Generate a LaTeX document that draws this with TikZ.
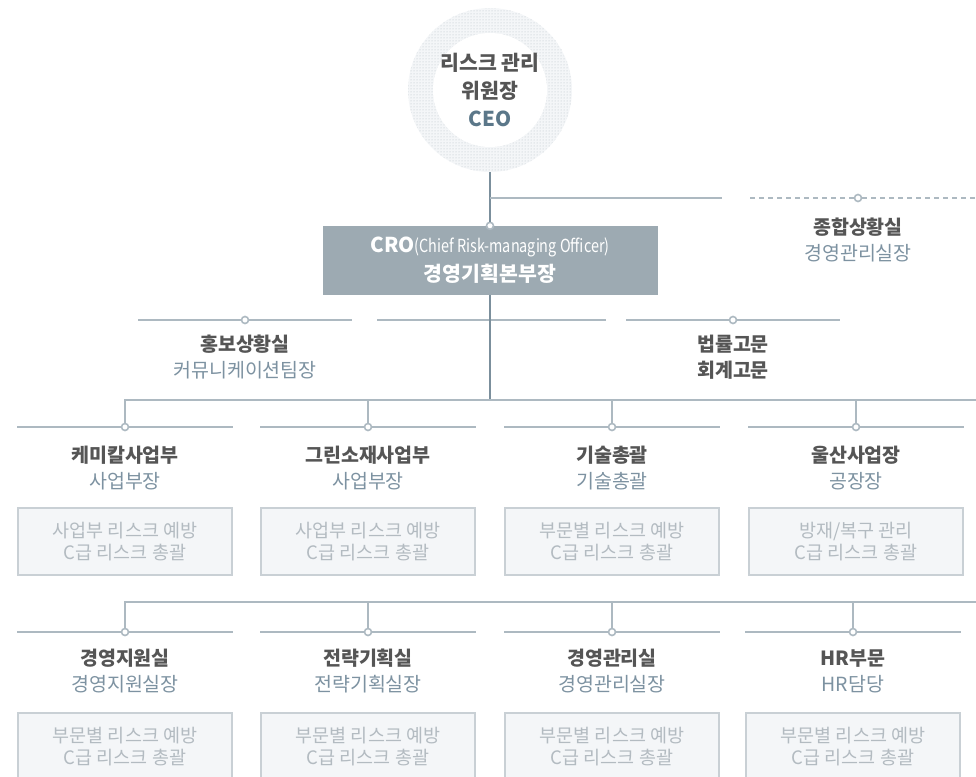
\documentclass[tikz,border=0pt]{standalone}
\usepackage{fontspec}
\setmainfont{Noto Sans CJK KR}
\newfontfamily\narrowfont{Noto Sans CJK KR}[FakeStretch=0.8]
\usetikzlibrary{positioning,patterns}

\definecolor{titlegray}{HTML}{555555}
\definecolor{slate}{HTML}{7D92A1}
\definecolor{ceoblue}{HTML}{5B7789}
\definecolor{linegray}{HTML}{ADB9C1}
\definecolor{maingray}{HTML}{7B8F9C}
\definecolor{boxline}{HTML}{C9D0D5}
\definecolor{boxfill}{HTML}{F4F6F8}
\definecolor{boxtext}{HTML}{B3BBC1}
\definecolor{crofill}{HTML}{9DAAB2}
\definecolor{ringdot}{HTML}{B7BFC6}

\begin{document}
\begin{tikzpicture}[x=1pt, y=-1pt,
    line/.style={draw=linegray, line width=1.3pt},
    mainline/.style={draw=maingray, line width=1.1pt},
    dot/.style={draw=linegray, line width=1.6pt, fill=white, circle, inner sep=0pt, minimum size=7pt},
    unit/.style={align=center, text=slate, font=\fontsize{19.5}{26}\selectfont},
    duty/.style={draw=boxline, line width=1.3pt, fill=boxfill, minimum width=214pt, minimum height=67pt,
        align=center, text=boxtext, font=\fontsize{18.5}{22}\selectfont},
    ceo/.style={circle, minimum size=164pt, preaction={fill=boxfill}, pattern=dots, pattern color=ringdot,
        path picture={\fill[white] (path picture bounding box.center) circle (57pt);},
        align=center, font=\fontsize{20.5}{28}\selectfont\bfseries, text=titlegray},
    cro/.style={fill=crofill, minimum width=335pt, minimum height=69pt, align=center, text=white,
        font=\fontsize{20.5}{29}\selectfont}]
    \useasboundingbox (0,0) rectangle (976,776);
    \clip (0,0) rectangle (976,776);

    % top
    \node[ceo] (ceo) at (490,90) {리스크 관리\\위원장\\{\color{ceoblue}CEO}};
    \node[cro] (cro) at (490,260.5) {\textbf{CRO}{\narrowfont\fontsize{18}{29}\selectfont(Chief Risk-managing Officer)}\\\textbf{경영기획본부장}};
    \node[dot] (crodot) at (cro.north) {};

    \coordinate (cb) at (490,198);
    \coordinate (cbend) at (722,198);
    \coordinate (jl) at (750,198);
    \coordinate (jr) at (976,198);
    \node[dot] (jdot) at (858,198) {};
    \node[unit] (jong) at (858,240) {{\bfseries\color{titlegray}종합상황실}\\경영관리실장};

    % staff row
    \node[dot] (hdot) at (245,320) {};
    \coordinate (hl) at (138,320);
    \coordinate (hr) at (352,320);
    \node[unit] (hong) at (245,357) {{\bfseries\color{titlegray}홍보상황실}\\커뮤니케이션팀장};
    \coordinate (ml) at (377,320);
    \coordinate (mr) at (606,320);
    \node[dot] (bdot) at (733,320) {};
    \coordinate (bl) at (626,320);
    \coordinate (br) at (840,320);
    \node[unit] (law) at (733,357) {{\bfseries\color{titlegray}법률고문}\\{\bfseries\color{titlegray}회계고문}};

    % first row
    \coordinate (bus1) at (976,400);
    \node[dot] (d1) at (125,427) {};
    \node[dot] (d2) at (368,427) {};
    \node[dot] (d3) at (612,427) {};
    \node[dot] (d4) at (856,427) {};
    \node[unit] (u1) at (125,468) {{\bfseries\color{titlegray}케미칼사업부}\\사업부장};
    \node[unit] (u2) at (368,468) {{\bfseries\color{titlegray}그린소재사업부}\\사업부장};
    \node[unit] (u3) at (612,468) {{\bfseries\color{titlegray}기술총괄}\\기술총괄};
    \node[unit] (u4) at (856,468) {{\bfseries\color{titlegray}울산사업장}\\공장장};
    \node[duty] (r1) at (125,541.5) {사업부 리스크 예방\\C급 리스크 총괄};
    \node[duty] (r2) at (368,541.5) {사업부 리스크 예방\\C급 리스크 총괄};
    \node[duty] (r3) at (612,541.5) {부문별 리스크 예방\\C급 리스크 총괄};
    \node[duty] (r4) at (856,541.5) {방재/복구 관리\\C급 리스크 총괄};

    % second row
    \coordinate (bus2) at (976,602);
    \node[dot] (e1) at (125,632) {};
    \node[dot] (e2) at (368,632) {};
    \node[dot] (e3) at (612,632) {};
    \node[dot] (e4) at (853,632) {};
    \node[unit] (v1) at (125,671) {{\bfseries\color{titlegray}경영지원실}\\경영지원실장};
    \node[unit] (v2) at (368,671) {{\bfseries\color{titlegray}전략기획실}\\전략기획실장};
    \node[unit] (v3) at (612,671) {{\bfseries\color{titlegray}경영관리실}\\경영관리실장};
    \node[unit] (v4) at (853,671) {{\bfseries\color{titlegray}HR부문}\\HR담당};
    \node[duty] (s1) at (125,746.5) {부문별 리스크 예방\\C급 리스크 총괄};
    \node[duty] (s2) at (368,746.5) {부문별 리스크 예방\\C급 리스크 총괄};
    \node[duty] (s3) at (612,746.5) {부문별 리스크 예방\\C급 리스크 총괄};
    \node[duty] (s4) at (853,746.5) {부문별 리스크 예방\\C급 리스크 총괄};

    % connectors
    \draw[mainline] (ceo) -- (crodot);
    \draw[line] (cb) -- (cbend);
    \draw[line, dash pattern=on 5pt off 4pt] (jl) -- (jdot) -- (jr);
    \draw[line] (hl) -- (hdot) -- (hr);
    \draw[line] (ml) -- (mr);
    \draw[line] (bl) -- (bdot) -- (br);
    \draw[mainline] (cro) -- (cro |- bus1);

    \draw[line] (d1) |- (bus1);
    \draw[line] (d2) -- (d2 |- bus1);
    \draw[line] (d3) -- (d3 |- bus1);
    \draw[line] (d4) -- (d4 |- bus1);
    \draw[line] (r1.west |- d1) -- (d1) -- (r1.east |- d1);
    \draw[line] (r2.west |- d2) -- (d2) -- (r2.east |- d2);
    \draw[line] (r3.west |- d3) -- (d3) -- (r3.east |- d3);
    \draw[line] (r4.west |- d4) -- (d4) -- (r4.east |- d4);

    \draw[line] (e1) |- (bus2);
    \draw[line] (e2) -- (e2 |- bus2);
    \draw[line] (e3) -- (e3 |- bus2);
    \draw[line] (e4) -- (e4 |- bus2);
    \draw[line] (s1.west |- e1) -- (e1) -- (s1.east |- e1);
    \draw[line] (s2.west |- e2) -- (e2) -- (s2.east |- e2);
    \draw[line] (s3.west |- e3) -- (e3) -- (s3.east |- e3);
    \draw[line] (s4.west |- e4) -- (e4) -- (s4.east |- e4);
\end{tikzpicture}
\end{document}
